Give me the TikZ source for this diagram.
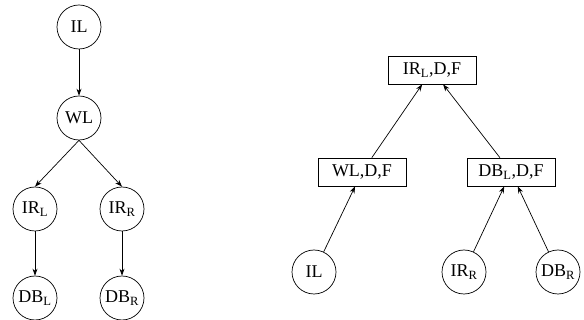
\documentclass[tikz,border=0pt]{standalone}
\usepackage{fontspec}
\setmainfont{Liberation Serif}
\usetikzlibrary{arrows.meta}
\tikzset{
  st/.style={circle,draw,minimum size=44pt,inner sep=0pt,font=\fontsize{18}{21}\selectfont},
  bx/.style={rectangle,draw,minimum width=88pt,minimum height=28pt,inner sep=2pt,font=\fontsize{18}{21}\selectfont},
  arr/.style={draw,-{Stealth[length=7pt,width=5pt]}}
}
\newcommand{\sbL}{\textsubscript{L}}
\newcommand{\sbR}{\textsubscript{R}}
\begin{document}
\begin{tikzpicture}[x=1pt,y=-1pt,line width=0.7pt]
\useasboundingbox (0,0) rectangle (584,320);
% left tree
\node[st] (il) at (79,27) {IL};
\node[st] (wl) at (79,118) {WL};
\node[st] (irl) at (35,209) {IR\sbL};
\node[st] (irr) at (122,209) {IR\sbR};
\node[st] (dbl) at (35,298) {DB\sbL};
\node[st] (dbr) at (122,298) {DB\sbR};
\draw[arr] (il.south) -- (wl.north);
\draw[arr] (wl.south) -- (irl.north);
\draw[arr] (wl.south) -- (irr.north);
\draw[arr] (irl.south) -- (dbl.north);
\draw[arr] (irr.south) -- (dbr.north);
% right tree
\node[bx] (top) at (432,70) {IR\sbL,D,F};
\node[bx] (wdf) at (362,172) {WL,D,F};
\node[bx] (ddf) at (511,172) {DB\sbL,D,F};
\node[st] (il2) at (314,272) {IL};
\node[st] (irr2) at (464,272) {IR\sbR};
\node[st] (dbr2) at (558,272) {DB\sbR};
\draw[arr] (wdf) -- (top);
\draw[arr] (ddf) -- (top);
\draw[arr] (il2) -- (wdf);
\draw[arr] (irr2) -- (ddf);
\draw[arr] (dbr2) -- (ddf);
\end{tikzpicture}
\end{document}
